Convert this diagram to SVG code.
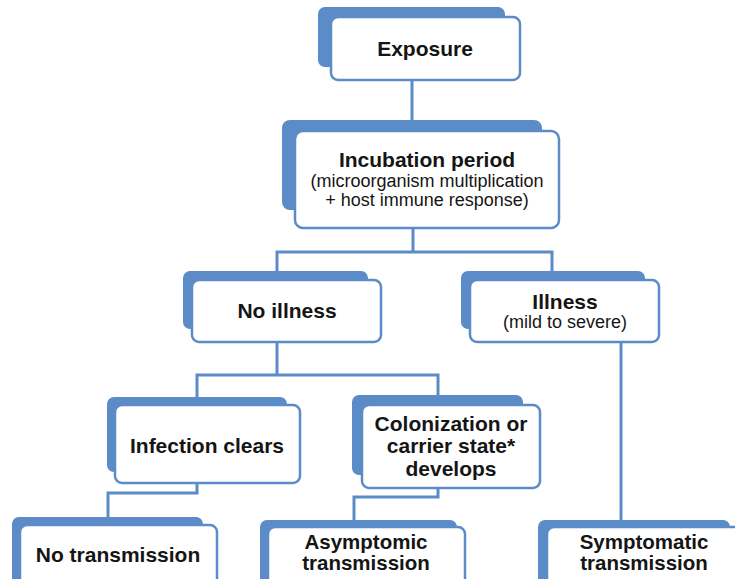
<svg xmlns="http://www.w3.org/2000/svg" width="735" height="579" viewBox="0 0 735 579">
<style>
.sh{fill:#5b8cc7;}
.bx{fill:#fff;stroke:#5b8cc7;stroke-width:2.5;}
.cn{fill:none;stroke:#5b8cc7;stroke-width:3;}
.t{font-family:"Liberation Sans",Arial,sans-serif;fill:#151515;text-anchor:middle;}
.b{font-weight:bold;font-size:21px;}
.b2{font-weight:bold;font-size:20.5px;}
.r{font-size:18px;}
</style>
<rect width="735" height="579" fill="#fff"/>
<g id="connectors">
<path class="cn" d="M412 80 V120"/>
<path class="cn" d="M413 228 V252 M277 252 H552 M277 250.5 V272 M552 250.5 V272"/>
<path class="cn" d="M277 342 V375 M197 375 H438 M197 373.5 V398 M438 373.5 V396"/>
<path class="cn" d="M621 342 V521"/>
<path class="cn" d="M197 483 V493 H108 V519"/>
<path class="cn" d="M438 488 V497 H354 V521"/>
</g>
<g id="exposure">
<rect class="sh" x="318" y="7" width="187" height="60" rx="7"/>
<rect class="bx" x="331" y="17" width="189" height="63" rx="7"/>
<text class="t b" x="425" y="56">Exposure</text>
</g>
<g id="incubation">
<rect class="sh" x="282" y="120" width="260" height="90" rx="8"/>
<rect class="bx" x="295" y="131" width="264" height="97" rx="8"/>
<text class="t b" x="427" y="167">Incubation period</text>
<text class="t r" x="427" y="187">(microorganism multiplication</text>
<text class="t r" x="427" y="206">+ host immune response)</text>
</g>
<g id="no-illness">
<rect class="sh" x="183" y="271" width="185" height="58" rx="7"/>
<rect class="bx" x="192" y="280" width="189" height="62" rx="7"/>
<text class="t b" x="287" y="318">No illness</text>
</g>
<g id="illness">
<rect class="sh" x="461" y="271" width="184" height="58" rx="7"/>
<rect class="bx" x="470" y="280" width="189" height="62" rx="7"/>
<text class="t b" x="565" y="309">Illness</text>
<text class="t r" x="565" y="328">(mild to severe)</text>
</g>
<g id="infection-clears">
<rect class="sh" x="107" y="397" width="180" height="75" rx="7"/>
<rect class="bx" x="115" y="405" width="185" height="78" rx="7"/>
<text class="t b" x="207" y="453">Infection clears</text>
</g>
<g id="colonization">
<rect class="sh" x="352" y="395" width="171" height="80" rx="7"/>
<rect class="bx" x="362" y="405" width="178" height="83" rx="7"/>
<text class="t b" x="451" y="431">Colonization or</text>
<text class="t b" x="451" y="453">carrier state*</text>
<text class="t b" x="451" y="476">develops</text>
</g>
<g id="no-transmission">
<rect class="sh" x="12" y="517" width="191" height="70" rx="7"/>
<rect class="bx" x="20" y="525" width="197" height="70" rx="7"/>
<text class="t b" x="118" y="562">No transmission</text>
</g>
<g id="asymptomic">
<rect class="sh" x="260" y="520" width="197" height="70" rx="7"/>
<rect class="bx" x="268" y="527" width="197" height="70" rx="7"/>
<text class="t b2" x="366" y="549">Asymptomic</text>
<text class="t b2" x="366" y="570">transmission</text>
</g>
<g id="symptomatic">
<rect class="sh" x="538" y="520" width="192" height="70" rx="7"/>
<rect class="bx" x="547" y="527" width="198" height="70" rx="7"/>
<text class="t b2" x="644" y="549">Symptomatic</text>
<text class="t b2" x="644" y="570">transmission</text>
</g>
</svg>
